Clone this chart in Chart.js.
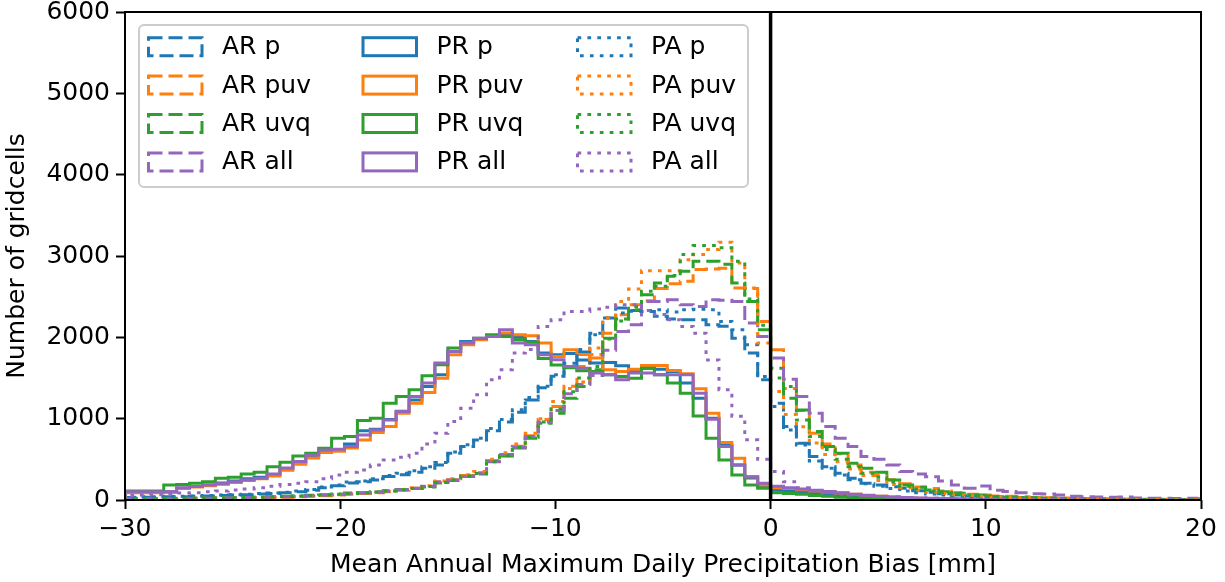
<!DOCTYPE html>
<html>
<head>
<meta charset="utf-8">
<script src="https://cdn.jsdelivr.net/npm/chart.js@4.4.1/dist/chart.umd.min.js"></script>
<style>
  html, body { margin: 0; padding: 0; background: #fff; }
</style>
</head>
<body>
<canvas id="hist" width="1225" height="582"></canvas>
<script>
// Histogram bins: 0.6 mm wide, first edge at -30.
var BIN_START = -30;
var BIN_WIDTH = 0.6;
var X_TICKS = [-30, -20, -10, 0, 10, 20];
var Y_TICKS = [0, 1000, 2000, 3000, 4000, 5000, 6000];
var ZERO_LINE = [0, 6000];

// Counts per bin (84 bins, -30 .. 20.4).
var arP = [
  30, 35, 35, 40, 40, 45, 50, 55, 60, 65,
  75, 80, 90, 100, 120, 150, 175, 210, 225, 245,
  290, 310, 340, 390, 431, 575, 657, 739, 850, 960,
  1080, 1230, 1380, 1520, 1640, 1820, 2050, 2237, 2361, 2330,
  2319, 2258, 2225, 2217, 2217, 2155, 2135, 1990, 1806, 1478,
  1190, 903, 698, 534, 410, 328, 267, 205, 185, 164,
  144, 115, 95, 78, 62, 50, 42, 35, 28, 24,
  20, 17, 14, 12, 10, 9, 8, 7, 6, 5,
  4, 4, 3, 3
];
var arPuv = [
  10, 12, 12, 14, 15, 16, 18, 20, 22, 24,
  26, 30, 34, 40, 45, 52, 60, 70, 80, 90,
  100, 120, 144, 165, 225, 250, 300, 335, 480, 560,
  660, 790, 990, 1150, 1400, 1640, 1790, 2050, 2278, 2401,
  2450, 2600, 2660, 2689, 2833, 2840, 2850, 2607, 2600, 2196,
  1847, 1370, 1100, 820, 690, 570, 430, 340, 300, 250,
  200, 160, 140, 110, 90, 70, 60, 50, 45, 40,
  30, 28, 25, 20, 18, 15, 12, 10, 10, 8,
  8, 6, 5, 5
];
var arUvq = [
  15, 15, 18, 20, 20, 22, 25, 28, 30, 32,
  35, 40, 45, 50, 58, 65, 75, 85, 90, 100,
  115, 130, 140, 160, 210, 240, 290, 320, 480, 540,
  640, 760, 944, 1067, 1252, 1395, 1601, 1990, 2225, 2340,
  2525, 2668, 2750, 2812, 2935, 2935, 2900, 2668, 2442, 2094,
  1621, 1252, 1108, 841, 657, 575, 452, 390, 340, 246,
  185, 156, 123, 102, 82, 62, 62, 41, 35, 30,
  28, 25, 20, 18, 15, 12, 10, 10, 8, 7,
  6, 5, 5, 4
];
var arAll = [
  12, 14, 15, 16, 18, 20, 22, 25, 27, 30,
  32, 36, 40, 45, 52, 60, 68, 78, 85, 95,
  108, 125, 145, 170, 220, 245, 290, 330, 470, 560,
  650, 780, 960, 1100, 1305, 1420, 1530, 1840, 2073, 2155,
  2440, 2440, 2463, 2400, 2380, 2463, 2455, 2440, 2176, 2011,
  1745, 1486, 1272, 1067, 903, 760, 657, 534, 500, 431,
  349, 320, 287, 234, 185, 144, 172, 120, 105, 90,
  78, 74, 60, 45, 40, 36, 34, 36, 25, 20,
  20, 18, 20, 15
];
var prP = [
  95, 95, 95, 100, 145, 165, 185, 210, 235, 260,
  280, 315, 385, 460, 540, 605, 615, 690, 850, 870,
  990, 1090, 1230, 1395, 1539, 1826, 1950, 1980, 2020, 2032,
  2000, 1950, 1806, 1786, 1800, 1720, 1683, 1690, 1650, 1580,
  1621, 1609, 1580, 1437, 1252, 1006, 677, 431, 271, 164,
  120, 110, 95, 82, 70, 58, 47, 38, 30, 24,
  19, 15, 12, 10, 8, 6, 5, 4, 3, 3,
  2, 2, 2, 1, 1, 1, 1, 1, 0, 0,
  0, 0, 0, 0
];
var prPuv = [
  90, 90, 90, 95, 140, 160, 175, 195, 215, 240,
  260, 295, 365, 440, 515, 585, 600, 640, 739, 830,
  903, 1067, 1190, 1321, 1498, 1786, 1909, 1970, 2011, 2053,
  2032, 2020, 1929, 1765, 1847, 1790, 1745, 1601, 1580, 1609,
  1654, 1654, 1593, 1552, 1367, 1067, 706, 513, 287, 185,
  150, 140, 125, 112, 98, 85, 70, 56, 45, 36,
  28, 22, 18, 14, 11, 9, 7, 6, 5, 4,
  3, 3, 2, 2, 2, 1, 1, 1, 1, 1,
  0, 0, 0, 0
];
var prUvq = [
  110, 110, 110, 185, 190, 205, 225, 267, 280, 320,
  340, 410, 464, 542, 575, 636, 760, 780, 977, 1005,
  1190, 1272, 1355, 1527, 1663, 1868, 1938, 1990, 2032, 2011,
  1970, 1940, 1740, 1660, 1625, 1590, 1580, 1539, 1518, 1498,
  1621, 1539, 1437, 1314, 1034, 760, 493, 308, 185, 144,
  90, 80, 70, 55, 45, 35, 28, 22, 18, 14,
  11, 9, 7, 6, 5, 4, 3, 3, 2, 2,
  2, 1, 1, 1, 1, 1, 1, 0, 0, 0,
  0, 0, 0, 0
];
var prAll = [
  100, 100, 100, 100, 152, 165, 185, 200, 225, 246,
  267, 320, 394, 472, 554, 616, 624, 657, 800, 862,
  985, 1088, 1272, 1437, 1683, 1826, 1929, 1990, 2011, 2094,
  1929, 1909, 1786, 1724, 1642, 1621, 1560, 1539, 1478, 1560,
  1560, 1539, 1539, 1539, 1314, 993, 657, 431, 287, 205,
  170, 150, 135, 120, 105, 90, 72, 58, 46, 38,
  30, 25, 20, 16, 13, 10, 8, 7, 6, 5,
  4, 3, 3, 2, 2, 2, 1, 1, 1, 1,
  1, 1, 0, 0
];
var paP = [
  35, 40, 40, 45, 45, 50, 55, 60, 65, 70,
  80, 85, 95, 110, 130, 160, 185, 220, 235, 260,
  300, 330, 360, 410, 460, 590, 680, 760, 880, 990,
  1110, 1260, 1400, 1540, 1680, 1850, 2032, 2240, 2300, 2320,
  2330, 2340, 2310, 2340, 2345, 2340, 2196, 2094, 1909, 1518,
  1150, 862, 677, 480, 390, 308, 250, 200, 170, 140,
  110, 90, 75, 60, 50, 40, 33, 27, 22, 18,
  15, 13, 11, 9, 8, 7, 6, 5, 4, 4,
  3, 3, 2, 2
];
var paPuv = [
  12, 14, 15, 16, 18, 20, 22, 24, 26, 28,
  30, 34, 38, 44, 50, 58, 66, 76, 86, 96,
  110, 128, 150, 175, 235, 260, 310, 350, 500, 580,
  690, 820, 1000, 1211, 1370, 1450, 1870, 2240, 2442, 2594,
  2820, 2820, 2820, 2955, 3017, 3079, 3169, 2915, 2607, 1929,
  1334, 1050, 900, 700, 560, 470, 380, 300, 240, 190,
  150, 120, 95, 80, 65, 55, 45, 38, 32, 28,
  24, 20, 17, 14, 12, 10, 9, 8, 7, 6,
  5, 5, 4, 4
];
var paUvq = [
  14, 15, 16, 18, 20, 22, 24, 26, 28, 30,
  33, 37, 42, 48, 55, 62, 70, 80, 88, 98,
  110, 125, 140, 165, 215, 245, 295, 325, 470, 545,
  650, 770, 960, 1120, 1330, 1500, 1640, 1980, 2200, 2380,
  2566, 2627, 2760, 3017, 3128, 3128, 3100, 2935, 2470, 2150,
  1500, 1395, 985, 780, 620, 500, 410, 330, 280, 220,
  170, 135, 110, 90, 72, 60, 50, 42, 35, 30,
  25, 22, 18, 15, 13, 11, 10, 8, 7, 6,
  5, 5, 4, 4
];
var paAll = [
  55, 60, 65, 75, 85, 90, 100, 110, 123, 135,
  150, 170, 190, 205, 225, 260, 308, 340, 370, 430,
  493, 525, 575, 690, 821, 965, 1129, 1293, 1478, 1601,
  1806, 1850, 2134, 2217, 2319, 2319, 2348, 2370, 2400, 2400,
  2330, 2280, 2217, 2134, 2050, 1720, 1355, 1030, 740, 500,
  350, 225, 150, 110, 90, 72, 60, 50, 42, 36,
  30, 25, 21, 18, 15, 12, 10, 9, 8, 7,
  6, 5, 4, 4, 3, 3, 2, 2, 2, 2,
  1, 1, 1, 1
];

var SERIES = [
  { label: 'AR p',   data: arP,   color: '#1f77b4', style: 'dashed' },
  { label: 'AR puv', data: arPuv, color: '#ff7f0e', style: 'dashed' },
  { label: 'AR uvq', data: arUvq, color: '#2ca02c', style: 'dashed' },
  { label: 'AR all', data: arAll, color: '#9467bd', style: 'dashed' },
  { label: 'PR p',   data: prP,   color: '#1f77b4', style: 'solid' },
  { label: 'PR puv', data: prPuv, color: '#ff7f0e', style: 'solid' },
  { label: 'PR uvq', data: prUvq, color: '#2ca02c', style: 'solid' },
  { label: 'PR all', data: prAll, color: '#9467bd', style: 'solid' },
  { label: 'PA p',   data: paP,   color: '#1f77b4', style: 'dotted' },
  { label: 'PA puv', data: paPuv, color: '#ff7f0e', style: 'dotted' },
  { label: 'PA uvq', data: paUvq, color: '#2ca02c', style: 'dotted' },
  { label: 'PA all', data: paAll, color: '#9467bd', style: 'dotted' }
];

var FONT = '"DejaVu Sans", Verdana, sans-serif';
var LINE_W = 3;
var DASHES = { solid: [], dashed: [14, 6], dotted: [3.7, 6.2] };

function fmtTick(v) {
  return String(v).replace('-', '\u2212');
}

// Step outline like matplotlib histtype='step'.
function stepPoints(counts) {
  var pts = [{ x: BIN_START, y: 0 }];
  counts.forEach(function (c, i) {
    pts.push({ x: BIN_START + BIN_WIDTH * i, y: c });
  });
  pts.push({ x: BIN_START + BIN_WIDTH * counts.length, y: 0 });
  return pts;
}

var datasets = SERIES.map(function (s, i) {
  return {
    label: s.label,
    data: stepPoints(s.data),
    stepped: 'before',
    borderColor: s.color,
    borderWidth: LINE_W,
    borderDash: DASHES[s.style],
    borderCapStyle: 'butt',
    pointRadius: 0,
    fill: false,
    order: 100 - i
  };
});

datasets.push({
  label: 'zero',
  data: [{ x: 0, y: ZERO_LINE[0] }, { x: 0, y: ZERO_LINE[1] }],
  borderColor: '#000',
  borderWidth: 3.5,
  pointRadius: 0,
  fill: false,
  order: 0
});

// Frame on top of the lines, then the boxed legend.
var frameAndLegend = {
  id: 'frameAndLegend',
  afterDatasetsDraw: function (chart) {
    var ctx = chart.ctx;
    var a = chart.chartArea;
    ctx.save();
    ctx.strokeStyle = '#000';
    ctx.lineWidth = 2;
    ctx.strokeRect(a.left, a.top, a.right - a.left, a.bottom - a.top);
    ctx.restore();
  },
  afterDraw: function (chart) {
    var ctx = chart.ctx;
    var a = chart.chartArea;
    var bx = a.left + 14, by = a.top + 13, bw = 609, bh = 162;
    ctx.save();
    ctx.beginPath();
    ctx.roundRect(bx, by, bw, bh, 5);
    ctx.fillStyle = 'rgba(255,255,255,0.8)';
    ctx.fill();
    ctx.strokeStyle = '#cccccc';
    ctx.lineWidth = 2;
    ctx.stroke();

    ctx.font = '25px ' + FONT;
    ctx.textBaseline = 'middle';
    ctx.textAlign = 'left';
    SERIES.forEach(function (s, i) {
      var col = Math.floor(i / 4), row = i % 4;
      var cy = by + 21.7 + row * 38.4;
      var hx = bx + 9.5 + col * 214.5;
      ctx.setLineDash(DASHES[s.style]);
      ctx.strokeStyle = s.color;
      ctx.lineWidth = LINE_W;
      ctx.strokeRect(hx, cy - 9, 53.5, 18);
      ctx.setLineDash([]);
      ctx.fillStyle = '#000';
      ctx.fillText(s.label, hx + 73.5, cy + 1);
    });
    ctx.restore();
  }
};

new Chart(document.getElementById('hist'), {
  type: 'line',
  data: { datasets: datasets },
  options: {
    responsive: false,
    animation: false,
    layout: { padding: { left: 0, right: 24, top: 12, bottom: 0 } },
    plugins: { legend: { display: false }, tooltip: { enabled: false } },
    scales: {
      x: {
        type: 'linear',
        min: -30,
        max: 20,
        afterBuildTicks: function (scale) {
          scale.ticks = X_TICKS.map(function (v) { return { value: v }; });
        },
        afterFit: function (scale) {
          scale.height = 82;
          scale.paddingLeft = 0;
          scale.paddingRight = 0;
        },
        border: { display: false },
        grid: { drawOnChartArea: false, drawTicks: true, tickLength: 9, tickWidth: 2, tickColor: '#000' },
        ticks: { color: '#000', padding: 5, maxRotation: 0, font: { family: FONT, size: 25 }, callback: fmtTick },
        title: {
          display: true,
          text: 'Mean Annual Maximum Daily Precipitation Bias [mm]',
          color: '#000',
          font: { family: FONT, size: 25 },
          padding: { top: 0, bottom: 2 }
        }
      },
      y: {
        type: 'linear',
        min: 0,
        max: 6000,
        afterBuildTicks: function (scale) {
          scale.ticks = Y_TICKS.map(function (v) { return { value: v }; });
        },
        afterFit: function (scale) {
          scale.width = 125;
          scale.paddingTop = 0;
          scale.paddingBottom = 0;
        },
        border: { display: false },
        grid: { drawOnChartArea: false, drawTicks: true, tickLength: 9, tickWidth: 2, tickColor: '#000' },
        ticks: { color: '#000', padding: 6, font: { family: FONT, size: 25 }, callback: fmtTick },
        title: {
          display: true,
          text: 'Number of gridcells',
          color: '#000',
          font: { family: FONT, size: 25 },
          padding: { top: 2, bottom: 0 }
        }
      }
    }
  },
  plugins: [frameAndLegend]
});
</script>
</body>
</html>
